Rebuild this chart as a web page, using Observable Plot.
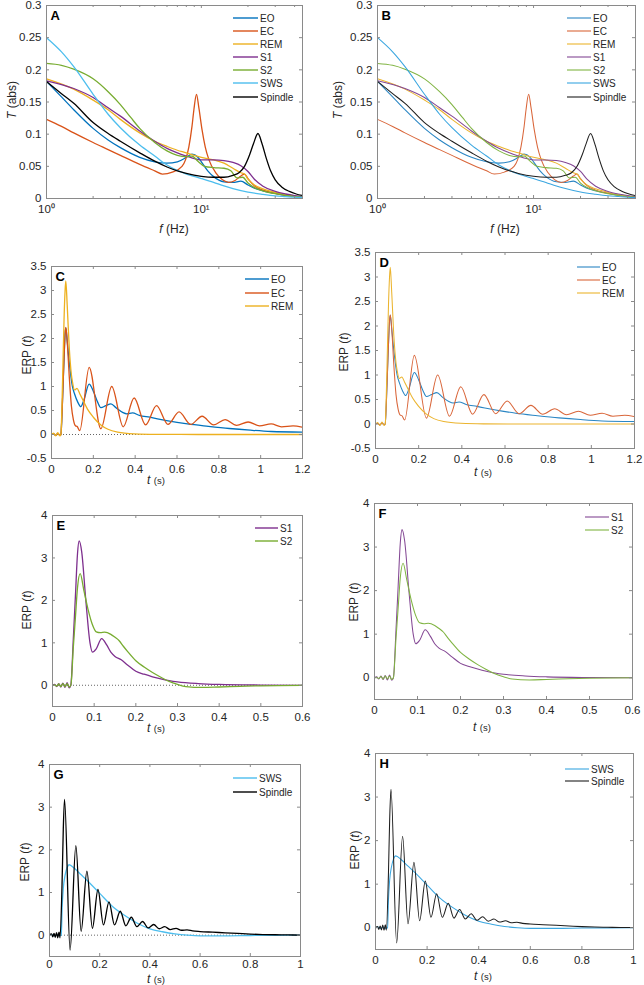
<!DOCTYPE html>
<html><head><meta charset="utf-8">
<script src="https://cdn.jsdelivr.net/npm/d3@7"></script>
<script src="https://cdn.jsdelivr.net/npm/@observablehq/plot@0.6"></script>
<style>
body{margin:0;background:#fff;}
#fig{position:relative;width:644px;height:985px;font-family:"Liberation Sans",Arial,Helvetica,sans-serif;color:#262626;overflow:hidden;}
#fig svg.p{position:absolute;}
</style></head><body><div id="fig"></div>
<script>
// ---------------- Panels A/B : T(f) ----------------
const eoF = [1,1.25,1.5,2,2.5,3,4,5,6,7,8,8.7,9.5,10,11,12,14,16,18,20,22,25,30,35,40,45];
const eoT = [0.182,0.158,0.138,0.109,0.091,0.079,0.064,0.057,0.055,0.057,0.064,0.069,0.064,0.057,0.043,0.034,0.026,0.025,0.027,0.021,0.016,0.012,0.008,0.005,0.0035,0.0025];
const ecF = [1,1.25,1.5,2,2.5,3,4,5,5.6,6.5,7.5,7.9,8.3,8.7,8.95,9.3,9.65,10.1,10.6,11.2,12.4,13.7,15,16.5,18,19,20,22,25,30,35,40,45];
const ecT = [0.123,0.112,0.102,0.087,0.076,0.067,0.053,0.043,0.038,0.041,0.050,0.060,0.080,0.112,0.138,0.162,0.140,0.107,0.080,0.060,0.040,0.029,0.025,0.028,0.035,0.038,0.031,0.020,0.013,0.008,0.005,0.003,0.002];
const remF = [1,1.5,2,2.5,3,4,5,6,7,8,9,10,12,14,16,18,19,20,22,25,30,35,40,45];
const remT = [0.186,0.170,0.153,0.138,0.123,0.102,0.089,0.081,0.075,0.071,0.067,0.064,0.060,0.055,0.047,0.040,0.038,0.030,0.021,0.015,0.0095,0.006,0.004,0.0025];
const s1F = [1,1.5,2,2.5,3,4,5,6,7,8,9,10,12,14,16,18,20,22,25,30,35,40,45];
const s1T = [0.183,0.171,0.157,0.141,0.128,0.105,0.089,0.078,0.071,0.066,0.062,0.060,0.060,0.059,0.056,0.051,0.042,0.030,0.019,0.011,0.007,0.0045,0.003];
const s2F = [1,1.25,1.5,2,2.5,3,3.5,4,5,6,7,8,8.7,9.5,10.5,12,14,15.5,17,18.5,20,22,25,30,35,40,45];
const s2T = [0.210,0.207,0.201,0.186,0.166,0.146,0.126,0.109,0.087,0.074,0.067,0.065,0.066,0.058,0.050,0.048,0.047,0.043,0.032,0.033,0.024,0.017,0.012,0.0075,0.005,0.003,0.002];
const swsF = [1,1.25,1.5,2,2.5,3,4,5,6,8,10,12,14,16,20,25,30,35,40,45];
const swsT = [0.250,0.228,0.205,0.162,0.131,0.110,0.083,0.066,0.052,0.038,0.031,0.025,0.0195,0.0155,0.010,0.0065,0.0042,0.003,0.002,0.0015];
const spF = [1,1.25,1.5,2,2.5,3,4,5,6,7,8,10,12,14,16,17.5,19,20.5,21.7,23.2,24.6,26.3,28,30,33,37,41,45];
const spT = [0.182,0.163,0.148,0.118,0.101,0.089,0.071,0.058,0.049,0.043,0.039,0.0345,0.033,0.033,0.036,0.040,0.050,0.068,0.085,0.101,0.086,0.062,0.043,0.029,0.018,0.011,0.007,0.0046];

// ---------------- Panels C/D : ERP EO, EC, REM ----------------
const cEoT = [0,0.01,0.02,0.03,0.04,0.045,0.05,0.055,0.06,0.065,0.0685,0.075,0.085,0.1,0.11,0.125,0.14,0.155,0.18,0.2,0.22,0.236,0.26,0.284,0.31,0.34,0.36,0.387,0.42,0.47,0.55,0.65,0.75,0.85,0.95,1.05,1.2];
const cEoV = [0,0.015,-0.02,0.02,-0.015,0,0.4,1.0,1.6,2.1,2.22,1.95,1.5,1.0,0.85,0.68,0.58,0.72,1.05,0.9,0.68,0.56,0.6,0.64,0.55,0.46,0.43,0.45,0.40,0.36,0.29,0.22,0.17,0.125,0.09,0.063,0.05];
const cEcT = [0,0.01,0.02,0.03,0.04,0.045,0.05,0.055,0.06,0.065,0.0685,0.075,0.085,0.095,0.105,0.115,0.122,0.135,0.18,0.236,0.288,0.343,0.395,0.45,0.502,0.557,0.61,0.665,0.72,0.775,0.83,0.885,0.94,0.995,1.05,1.1,1.155,1.2];
const cEcV = [0,0.015,-0.02,0.02,-0.015,0,0.4,1.0,1.6,2.1,2.23,1.95,1.2,0.6,0.3,0.18,0.17,0.08,1.40,0.12,1.00,0.16,0.76,0.20,0.60,0.21,0.47,0.21,0.38,0.20,0.31,0.19,0.26,0.18,0.22,0.16,0.18,0.15];
const cRemT = [0,0.01,0.02,0.03,0.04,0.045,0.05,0.055,0.06,0.065,0.0685,0.075,0.085,0.095,0.1,0.11,0.122,0.135,0.15,0.172,0.2,0.236,0.27,0.316,0.395,0.5,0.7,1.2];
const cRemV = [0,0.03,-0.03,0.04,-0.03,0,0.6,1.5,2.4,3.0,3.2,2.7,1.8,1.25,1.1,0.93,0.96,0.85,0.72,0.53,0.36,0.2,0.11,0.05,0.014,0.003,0,0];

// ---------------- Panels E/F : ERP S1, S2 ----------------
const eS1T = [0,0.005,0.01,0.015,0.02,0.025,0.03,0.035,0.04,0.044,0.05,0.055,0.06,0.064,0.07,0.08,0.09,0.096,0.105,0.118,0.13,0.14,0.15,0.165,0.18,0.2,0.22,0.24,0.26,0.28,0.3,0.35,0.4,0.5,0.6];
const eS1V = [0,0.02,-0.03,0.04,-0.04,0.05,-0.05,0.06,-0.06,0,1.1,2.1,3.1,3.4,3.15,2.0,1.0,0.78,0.86,1.1,0.95,0.78,0.68,0.6,0.48,0.33,0.26,0.2,0.15,0.11,0.08,0.04,0.02,0.005,0];
const eS2T = [0,0.005,0.01,0.015,0.02,0.025,0.03,0.035,0.04,0.044,0.05,0.055,0.06,0.0665,0.075,0.085,0.095,0.105,0.115,0.125,0.14,0.15,0.16,0.17,0.18,0.2,0.22,0.24,0.26,0.28,0.3,0.32,0.36,0.4,0.45,0.5,0.6];
const eS2V = [0,0.01,-0.02,0.03,-0.03,0.04,-0.03,0.04,-0.04,0,0.9,1.6,2.3,2.63,2.25,1.8,1.45,1.26,1.24,1.25,1.2,1.13,1.05,0.92,0.8,0.58,0.43,0.3,0.19,0.09,0.02,-0.03,-0.05,-0.04,-0.025,-0.012,0];

// ---------------- Panels G/H : ERP SWS, Spindle ----------------
const gSwsT = [0,0.01,0.02,0.03,0.04,0.047,0.05,0.055,0.062,0.07,0.078,0.1,0.125,0.15,0.2,0.25,0.3,0.35,0.4,0.45,0.5,0.55,0.6,0.7,0.8,0.9,1.0];
const gSwsV = [0,0.015,-0.015,0.015,-0.015,0,0.6,1.1,1.4,1.58,1.65,1.56,1.42,1.28,0.98,0.68,0.46,0.28,0.15,0.08,0.03,0.0,-0.015,-0.015,-0.008,-0.003,0];
const gSpT = [0,0.008,0.013,0.018,0.023,0.028,0.033,0.038,0.042,0.05,0.055,0.06,0.082,0.105,0.126,0.149,0.171,0.193,0.215,0.237,0.259,0.282,0.304,0.326,0.348,0.371,0.393,0.415,0.437,0.459,0.481,0.504,0.526,0.548,0.57,0.6,0.65,0.7,0.75,0.8,0.85,0.9,0.95,1.0];
const gSpV = [0,0.03,-0.04,0.04,-0.05,0.06,-0.06,0.07,-0.06,1.2,2.5,3.18,-0.35,2.1,0.09,1.5,0.16,1.07,0.24,0.78,0.24,0.56,0.22,0.42,0.2,0.32,0.17,0.25,0.15,0.2,0.13,0.16,0.115,0.125,0.1,0.085,0.07,0.055,0.04,0.025,0.015,0.01,0.005,0.003];

// ---------------- tick labels / names ----------------
const stateNames = ["EO","EC","REM","S1","S2","SWS","Spindle"];
const colorsL = {EO:"#0072BD", EC:"#D95319", REM:"#EDB120", S1:"#7E2F8E", S2:"#77AC30", SWS:"#4DBEEE", Spindle:"#000000"};
const colorsR = {EO:"#2A86C4", EC:"#D9663A", REM:"#EBB42E", S1:"#844894", S2:"#80B443", SWS:"#3AA6E0", Spindle:"#1e1e1e"};
const fTicks = [1,10];
const fMinor = [2,3,4,5,6,7,8,9,20,30,40];
const tAbsTicks = [0,0.05,0.1,0.15,0.2,0.25,0.3];
const erpTicksC = [-0.5,0,0.5,1,1.5,2,2.5,3,3.5];
const erpTicks4 = [0,1,2,3,4];
const tTicks12 = [0,0.2,0.4,0.6,0.8,1,1.2];
const tTicks06 = [0,0.1,0.2,0.3,0.4,0.5,0.6];
const tTicks10 = [0,0.2,0.4,0.6,0.8,1];

const rows = (xs, ys) => xs.map((x, i) => ({x, y: ys[i]}));
const seriesData = {
  A: [["EO",eoF,eoT],["EC",ecF,ecT],["REM",remF,remT],["S1",s1F,s1T],["S2",s2F,s2T],["SWS",swsF,swsT],["Spindle",spF,spT]],
  C: [["EO",cEoT,cEoV],["EC",cEcT,cEcV],["REM",cRemT,cRemV]],
  E: [["S1",eS1T,eS1V],["S2",eS2T,eS2V]],
  G: [["SWS",gSwsT,gSwsV],["Spindle",gSpT,gSpV]]
};

const fmt = d => String(Math.round(d * 100) / 100);
const supFmt = d => d === 1 ? "10\u2070" : d === 10 ? "10\u00B9" : "";
const AX = "#8a8a8a";

function makePanel(c) {
  const iw = c.width - c.ml - c.mr, ih = c.height - c.mt - c.mb, tk = 3;
  const pal = c.right ? colorsR : colorsL;
  const lw = c.right ? 1.05 : 1.3;
  const marks = [];
  if (c.zero) marks.push(Plot.ruleY([0], {stroke: "#555", strokeWidth: 0.9, strokeDasharray: "1,2"}));
  for (const [name, xs, ys] of c.series) {
    marks.push(Plot.line(rows(xs, ys), {x: "x", y: "y", stroke: pal[name], strokeWidth: lw, curve: "monotone-x", clip: true}));
  }
  marks.push(Plot.frame({stroke: AX}));
  marks.push(Plot.tickX(c.xTicks, {x: d => d, insetTop: ih - tk, stroke: AX}));
  marks.push(Plot.tickX(c.xTicks, {x: d => d, insetBottom: ih - tk, stroke: AX}));
  if (c.xMinor) {
    marks.push(Plot.tickX(c.xMinor, {x: d => d, insetTop: ih - 2, stroke: AX}));
    marks.push(Plot.tickX(c.xMinor, {x: d => d, insetBottom: ih - 2, stroke: AX}));
  }
  marks.push(Plot.tickY(c.yTicks, {y: d => d, insetRight: iw - tk, stroke: AX}));
  marks.push(Plot.tickY(c.yTicks, {y: d => d, insetLeft: iw - tk, stroke: AX}));
  marks.push(Plot.axisX(c.xTicks, {tickSize: 0, tickPadding: c.xPad || 6, tickFormat: c.xFmt, label: null, fill: "#262626"}));
  marks.push(Plot.axisY(c.yTicks, {tickSize: 0, tickPadding: 5, tickFormat: fmt, label: null, fill: "#262626"}));
  marks.push(Plot.text([c.letter], {text: d => d, frameAnchor: "top-left", dx: 4, dy: 5, textAnchor: "start", lineAnchor: "top", fontWeight: "bold", fontSize: 13, fill: "#000"}));
  const svg = Plot.plot({
    width: c.width, height: c.height,
    marginTop: c.mt, marginRight: c.mr, marginBottom: c.mb, marginLeft: c.ml,
    x: c.x, y: c.y,
    style: {fontFamily: "Liberation Sans, Arial, Helvetica, sans-serif", fontSize: "11.5px", color: "#262626", background: "transparent", overflow: "visible"},
    marks
  });
  svg.classList.add("p");
  svg.style.left = c.left + "px";
  svg.style.top = c.top + "px";
  document.getElementById("fig").appendChild(svg);
}

const logX = {type: "log", domain: [1, 45]};
const panels = [
  {letter:"A", left:0,   top:0,   width:322, height:240, mt:5,  mr:20, mb:42, ml:46, x:logX, y:{domain:[0,0.3]}, xTicks:fTicks, xMinor:fMinor, xFmt:supFmt, yTicks:tAbsTicks, series:seriesData.A},
  {letter:"B", left:322, top:0,   width:322, height:240, mt:5,  mr:9,  mb:42, ml:55, x:logX, y:{domain:[0,0.3]}, xTicks:fTicks, xMinor:fMinor, xFmt:supFmt, yTicks:tAbsTicks, series:seriesData.A, right:true},
  {letter:"C", left:0,   top:240, width:322, height:250, mt:26, mr:20, mb:32, ml:51, x:{domain:[0,1.2]}, y:{domain:[-0.5,3.5]}, xTicks:tTicks12, xFmt:fmt, yTicks:erpTicksC, series:seriesData.C, zero:true},
  {letter:"D", left:322, top:240, width:322, height:250, mt:12, mr:10, mb:42, ml:53, x:{domain:[0,1.2]}, y:{domain:[-0.5,3.5]}, xTicks:tTicks12, xFmt:fmt, yTicks:erpTicksC, series:seriesData.C, right:true},
  {letter:"E", left:0,   top:490, width:322, height:240, mt:25, mr:20, mb:24, ml:52, x:{domain:[0,0.6]}, y:{domain:[-0.5,4]}, xTicks:tTicks06, xFmt:fmt, yTicks:erpTicks4, series:seriesData.E, zero:true},
  {letter:"F", left:322, top:490, width:322, height:240, mt:13, mr:12, mb:31, ml:52, x:{domain:[0,0.6]}, y:{domain:[-0.5,4]}, xTicks:tTicks06, xFmt:fmt, yTicks:erpTicks4, series:seriesData.E, right:true},
  {letter:"G", left:0,   top:730, width:322, height:255, mt:34, mr:22, mb:29, ml:49, x:{domain:[0,1]}, y:{domain:[-0.5,4]}, xTicks:tTicks10, xFmt:fmt, yTicks:erpTicks4, series:seriesData.G, zero:true, xPad:3},
  {letter:"H", left:322, top:730, width:322, height:255, mt:23, mr:11, mb:36, ml:53, x:{domain:[0,1]}, y:{domain:[-0.5,4]}, xTicks:tTicks10, xFmt:fmt, yTicks:erpTicks4, series:seriesData.G, right:true}
];
panels.forEach(makePanel);

// ---------------- overlay: axis titles and legends ----------------
const NS = "http://www.w3.org/2000/svg";
const ov = document.createElementNS(NS, "svg");
ov.setAttribute("width", 644); ov.setAttribute("height", 985);
ov.style.cssText = "position:absolute;left:0;top:0;pointer-events:none;font-family:'Liberation Sans',Arial,Helvetica,sans-serif;";
document.getElementById("fig").appendChild(ov);
function txt(x, y, html, size, rot, anchor) {
  const t = document.createElementNS(NS, "text");
  t.setAttribute("x", x); t.setAttribute("y", y);
  t.setAttribute("text-anchor", anchor || "middle");
  t.setAttribute("dominant-baseline", "central");
  t.setAttribute("font-size", size);
  t.setAttribute("fill", "#262626");
  if (rot) t.setAttribute("transform", `rotate(${rot},${x},${y})`);
  t.innerHTML = html;
  ov.appendChild(t);
}
const yT = '<tspan font-style="italic">T</tspan> (abs)';
const yE = 'ERP (<tspan font-style="italic">t</tspan>)';
const xF = '<tspan font-style="italic">f</tspan> (Hz)';
const xTs = '<tspan font-style="italic" font-size="12">t</tspan> <tspan font-size="9.5">(s)</tspan>';
const yLabels = [[12,100,yT],[338,100,yT],[27,355,yE],[344,352,yE],[27,610,yE],[354,602,yE],[25,862,yE],[355,850,yE]];
yLabels.forEach(([x,y,h]) => txt(x, y, h, 12, -90));
const xLabels = [[174,229,xF],[505,229,xF],[156,480,xTs],[483,472,xTs],[156,728,xTs],[482,727,xTs],[156,979,xTs],[483,976,xTs]];
xLabels.forEach(([x,y,h]) => txt(x, y, h, 12, 0));

const legends = [
  [233,258,260,[18,31,44,57,70,83,97], stateNames, false],
  [567,591,593,[18,31,44,57,70,83,97], stateNames, true],
  [245,269,271,[279,293,306], ["EO","EC","REM"], false],
  [577,600,602,[267,280,293], ["EO","EC","REM"], true],
  [255,278,280,[528,541], ["S1","S2"], false],
  [585,609,611,[517,530], ["S1","S2"], true],
  [233,257,259,[778,792], ["SWS","Spindle"], false],
  [565,589,591,[769,781], ["SWS","Spindle"], true]
];
for (const [x0,x1,tx,ys,names,right] of legends) {
  const pal = right ? colorsR : colorsL;
  names.forEach((n, i) => {
    const l = document.createElementNS(NS, "line");
    l.setAttribute("x1", x0); l.setAttribute("x2", x1);
    l.setAttribute("y1", ys[i]); l.setAttribute("y2", ys[i]);
    l.setAttribute("stroke", pal[n]); l.setAttribute("stroke-width", right ? 1.1 : 1.4);
    ov.appendChild(l);
    txt(tx, ys[i], n, 10, 0, "start");
  });
}
</script></body></html>
